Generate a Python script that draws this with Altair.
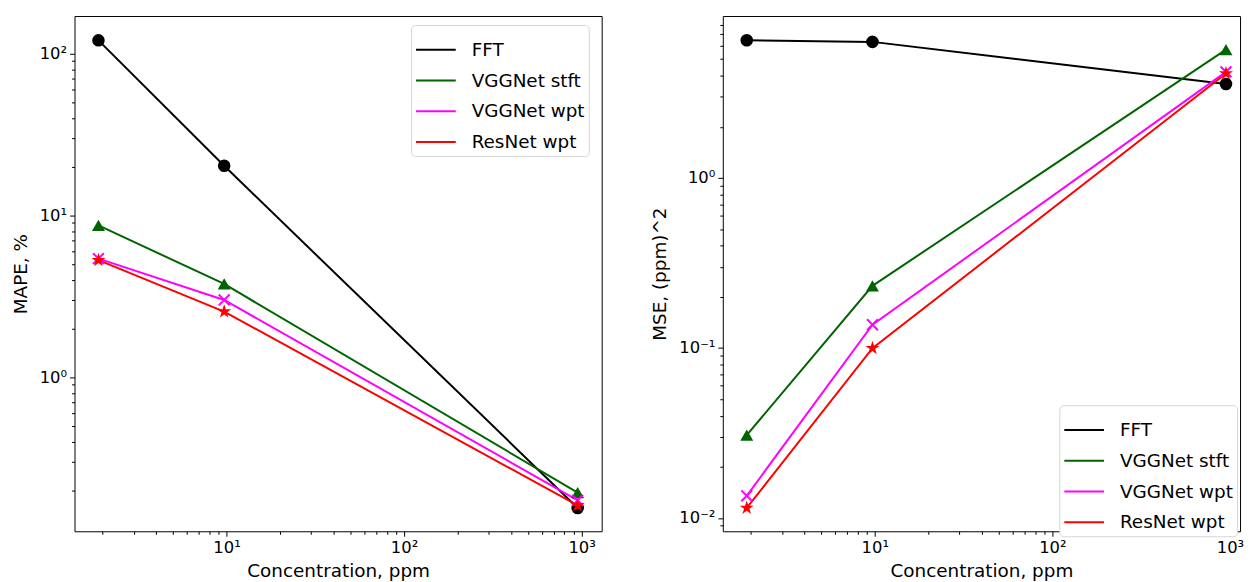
import altair as alt
import pandas as pd

# ---- data ----
conc = [1.9, 9.7, 950]
methods = ["FFT", "VGGNet stft", "VGGNet wpt", "ResNet wpt"]
colors = ["black", "#006400", "magenta", "red"]
STAR = ("M0,-1L0.2245,-0.309L0.9511,-0.309L0.3633,0.118L0.5878,0.809L0,0.382"
        "L-0.5878,0.809L-0.3633,0.118L-0.9511,-0.309L-0.2245,-0.309Z")
shapes = ["circle", "triangle-up", "M-1,-1L1,1M-1,1L1,-1", STAR]
filled = [True, True, False, True]
sizes = [160, 170, 120, 220]

mape_fft = [121, 20.3, 0.156]
mape_stft = [8.7, 3.78, 0.194]
mape_vwpt = [5.42, 3.01, 0.174]
mape_rwpt = [5.3, 2.55, 0.162]

mse_fft = [6.46, 6.32, 3.57]
mse_stft = [0.0307, 0.232, 5.69]
mse_vwpt = [0.0135, 0.137, 4.21]
mse_rwpt = [0.01145, 0.0997, 4.12]

x_domain_left = [1.393, 1297]
x_domain_right = [1.393, 1140]   # right panel is cut at the page edge
mape_domain = [0.112, 171]
mse_domain = [0.00835, 8.97]

FONT = "DejaVu Sans"
IS_MAJOR = "abs(log(datum.value)/LN10 - round(log(datum.value)/LN10)) < 0.000001"
SUP = ("(" + IS_MAJOR + ") ? ("
       "datum.value < 0.05 ? '10⁻²' : datum.value < 0.5 ? '10⁻¹' : "
       "datum.value < 5 ? '10⁰' : datum.value < 50 ? '10¹' : "
       "datum.value < 500 ? '10²' : '10³') : ''")


def log_ticks(lo, hi):
    out = []
    for e in range(-4, 5):
        for m in range(1, 10):
            v = round(m * 10.0 ** e, 6)
            if lo <= v <= hi:
                out.append(v)
    return out


def make_df(series):
    rows = []
    for name, vals in zip(methods, series):
        for c, v in zip(conc, vals):
            rows.append({"conc": c, "value": v, "method": name})
    return pd.DataFrame(rows)


TICK_SIZE = {"condition": {"test": IS_MAJOR, "value": 5}, "value": 3}


def panel(series, ytitle, xdomain, ydomain, legend_xy, width):
    df = make_df(series)
    xs = alt.Scale(type="log", domain=xdomain, nice=False)
    ys = alt.Scale(type="log", domain=ydomain, nice=False)
    ax_x = alt.Axis(values=log_ticks(*xdomain), labelExpr=SUP, title="Concentration, ppm",
                    tickSize=TICK_SIZE, labelPadding=3, titlePadding=6, grid=False,
                    domain=False, labelFontSize=16.5, titleFontSize=18.5,
                    labelFlush=False, labelOverlap=False, orient="bottom",
                    titleFontWeight="normal", labelColor="black", titleColor="black")
    ax_y = alt.Axis(values=log_ticks(*ydomain), labelExpr=SUP, title=ytitle,
                    tickSize=TICK_SIZE, labelPadding=3, titlePadding=9, grid=False,
                    domain=False, labelFontSize=16.5, titleFontSize=18.5,
                    labelOverlap=False, orient="left",
                    titleFontWeight="normal", labelColor="black", titleColor="black")

    lines = alt.Chart(df).mark_line(strokeWidth=2).encode(
        x=alt.X("conc:Q", scale=xs, axis=ax_x),
        y=alt.Y("value:Q", scale=ys, axis=ax_y),
        color=alt.Color("method:N",
                        scale=alt.Scale(domain=methods, range=colors),
                        legend=alt.Legend(
                            title=None, orient="none",
                            legendX=legend_xy[0], legendY=legend_xy[1],
                            symbolType="stroke", symbolSize=1600,
                            symbolStrokeWidth=2, labelFontSize=18.5,
                            labelFont=FONT, labelColor="black",
                            labelOffset=15, rowPadding=-8, padding=4,
                            strokeColor="#d6d6d6", fillColor="white",
                            cornerRadius=4)),
        order=alt.Order("conc:Q"),
    )
    layers = [lines]
    for i, name in enumerate(methods):
        pts = alt.Chart(df).transform_filter(
            alt.datum.method == name
        ).mark_point(
            shape=shapes[i], filled=filled[i], size=sizes[i], opacity=1,
            strokeWidth=2, color=colors[i]
        ).encode(
            x=alt.X("conc:Q", scale=xs),
            y=alt.Y("value:Q", scale=ys),
        )
        layers.append(pts)
    return alt.layer(*layers).properties(width=width, height=519)


left = panel([mape_fft, mape_stft, mape_vwpt, mape_rwpt], "MAPE, %",
             x_domain_left, mape_domain, (339, 9), 531)
right = panel([mse_fft, mse_stft, mse_vwpt, mse_rwpt], "MSE, (ppm)^2",
              x_domain_right, mse_domain, (339, 392), 521)

chart = alt.hconcat(left, right, spacing=48).resolve_scale(
    color="independent", x="independent", y="independent"
).resolve_legend(color="independent").properties(
    padding={"left": 2, "top": 5, "right": 0, "bottom": 0}
).configure(font=FONT).configure_view(
    stroke="black", strokeWidth=1
).configure_axis(tickColor="black", labelFont=FONT, titleFont=FONT)

chart.save("out.html", embed_options={"renderer": "svg", "actions": False})
